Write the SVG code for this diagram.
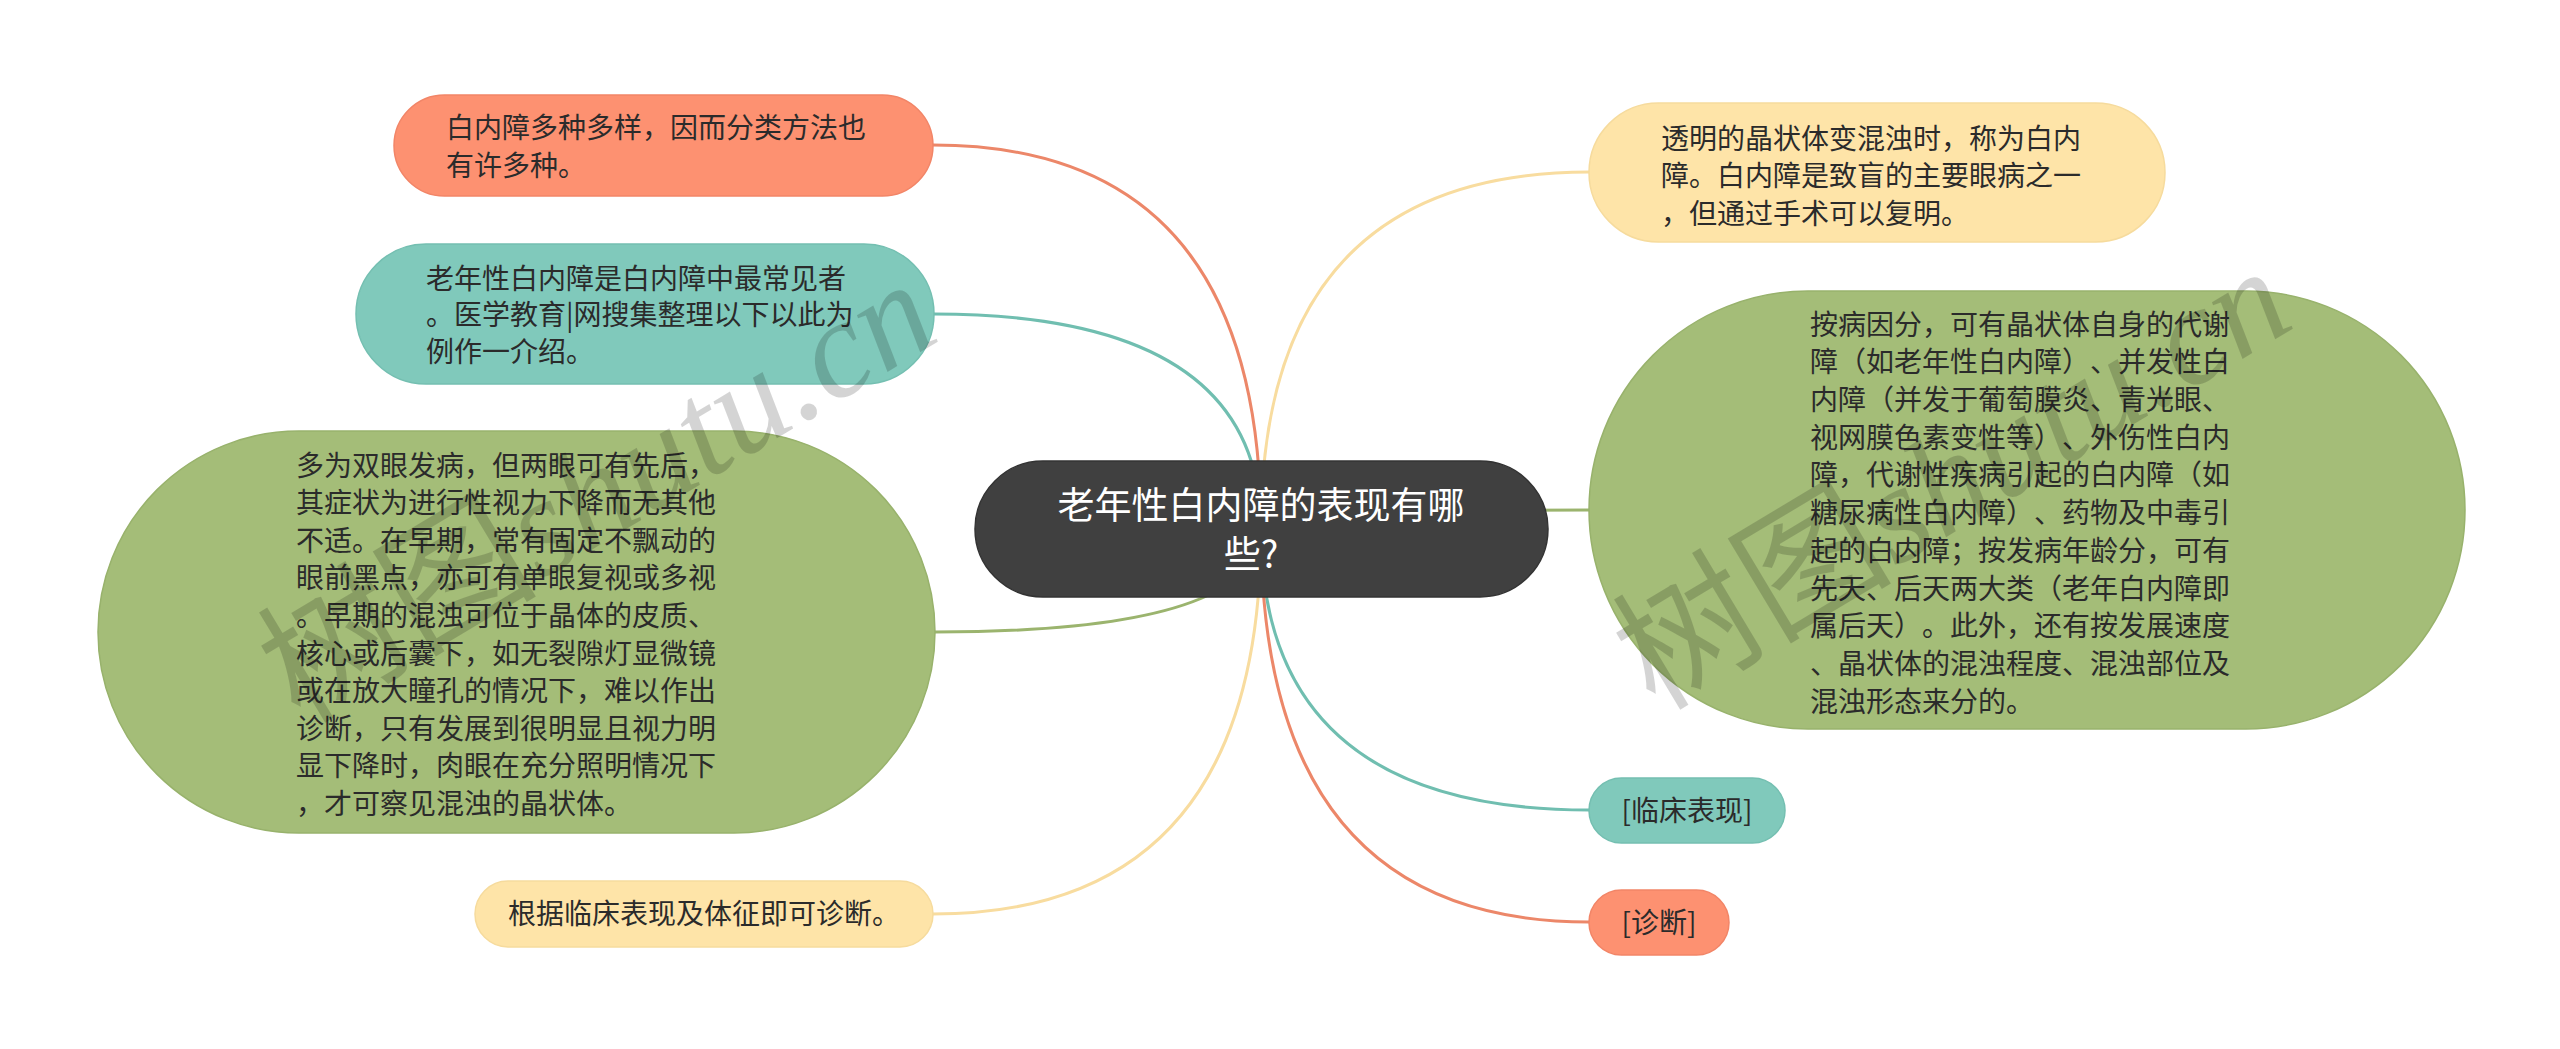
<svg xmlns="http://www.w3.org/2000/svg" width="2560" height="1049" viewBox="0 0 2560 1049">
<style>
.t{font-family:"Noto Sans CJK SC","Noto Sans",sans-serif;font-size:28px;fill:#2b2b2b;text-spacing-trim:space-all}
.root{font-family:"Noto Sans CJK SC","Noto Sans",sans-serif;font-size:37px;fill:#ffffff;text-spacing-trim:space-all}
.c{fill:none;stroke-width:3;stroke-linecap:round}
.salmon{fill:#fd9171;stroke:#f28567;stroke-width:1.5}
.teal{fill:#80c9bb;stroke:#74bfb1;stroke-width:1.5}
.yellow{fill:#fee4a8;stroke:#f6db9d;stroke-width:1.5}
.green{fill:#a4bd78;stroke:#98b26c;stroke-width:1.5}
.wm{font-size:140px;fill:#000;fill-opacity:0.17}
</style>
<rect width="2560" height="1049" fill="#ffffff"/>
<g id="connectors">
<path class="c" stroke="#ec8769" d="M1261 529 Q1261 145 933 145"/>
<path class="c" stroke="#70beb0" d="M1261 529 Q1261 314 934 314"/>
<path class="c" stroke="#9bb46e" d="M1261 529 Q1261 632 935 632"/>
<path class="c" stroke="#f8dc9f" d="M1261 529 Q1261 914 933 914"/>
<path class="c" stroke="#f8dc9f" d="M1261 529 Q1261 172 1589 172"/>
<path class="c" stroke="#9bb46e" d="M1261 529 Q1261 510 1589 510"/>
<path class="c" stroke="#70beb0" d="M1261 529 Q1261 810 1589 810"/>
<path class="c" stroke="#ec8769" d="M1261 529 Q1261 922 1589 922"/>
</g>
<g id="root">
<rect x="975" y="461" width="573" height="136" rx="68" fill="#404040" stroke="#333" stroke-width="1.5"/>
<text class="root" x="1261" y="519" text-anchor="middle">老年性白内障的表现有哪</text>
<text class="root" x="1251" y="568" text-anchor="middle">些?</text>
</g>
<g id="n-salmon-left">
<rect class="salmon" x="394" y="95" width="539" height="101" rx="50.5"/>
<text class="t" x="446" y="138">白内障多种多样，因而分类方法也</text>
<text class="t" x="446" y="175.5">有许多种。</text>
</g>
<g id="n-teal-left">
<rect class="teal" x="356" y="244" width="578" height="140" rx="70"/>
<text class="t" x="426" y="288.5">老年性白内障是白内障中最常见者</text>
<text class="t" x="426" y="325">。医学教育|网搜集整理以下以此为</text>
<text class="t" x="426" y="361.5">例作一介绍。</text>
</g>
<g id="n-green-left">
<rect class="green" x="98" y="431" width="837" height="402" rx="201"/>
<text class="t" x="296" y="475.6">多为双眼发病，但两眼可有先后，</text>
<text class="t" x="296" y="513.2">其症状为进行性视力下降而无其他</text>
<text class="t" x="296" y="550.8">不适。在早期，常有固定不飘动的</text>
<text class="t" x="296" y="588.4">眼前黑点，亦可有单眼复视或多视</text>
<text class="t" x="296" y="626">。早期的混浊可位于晶体的皮质、</text>
<text class="t" x="296" y="663.6">核心或后囊下，如无裂隙灯显微镜</text>
<text class="t" x="296" y="701.2">或在放大瞳孔的情况下，难以作出</text>
<text class="t" x="296" y="738.8">诊断，只有发展到很明显且视力明</text>
<text class="t" x="296" y="776.4">显下降时，肉眼在充分照明情况下</text>
<text class="t" x="296" y="814">，才可察见混浊的晶状体。</text>
</g>
<g id="n-yellow-left">
<rect class="yellow" x="475" y="881" width="458" height="66" rx="33"/>
<text class="t" x="508" y="923.5">根据临床表现及体征即可诊断。</text>
</g>
<g id="n-yellow-right">
<rect class="yellow" x="1589" y="103" width="576" height="139" rx="69.5"/>
<text class="t" x="1661" y="148.5">透明的晶状体变混浊时，称为白内</text>
<text class="t" x="1661" y="186">障。白内障是致盲的主要眼病之一</text>
<text class="t" x="1661" y="223.5">，但通过手术可以复明。</text>
</g>
<g id="n-green-right">
<rect class="green" x="1589" y="291" width="876" height="438" rx="219"/>
<text class="t" x="1810" y="334.6">按病因分，可有晶状体自身的代谢</text>
<text class="t" x="1810" y="372.3">障（如老年性白内障）、并发性白</text>
<text class="t" x="1810" y="410">内障（并发于葡萄膜炎、青光眼、</text>
<text class="t" x="1810" y="447.7">视网膜色素变性等）、外伤性白内</text>
<text class="t" x="1810" y="485.4">障，代谢性疾病引起的白内障（如</text>
<text class="t" x="1810" y="523.1">糖尿病性白内障）、药物及中毒引</text>
<text class="t" x="1810" y="560.8">起的白内障；按发病年龄分，可有</text>
<text class="t" x="1810" y="598.5">先天、后天两大类（老年白内障即</text>
<text class="t" x="1810" y="636.2">属后天）。此外，还有按发展速度</text>
<text class="t" x="1810" y="673.9">、晶状体的混浊程度、混浊部位及</text>
<text class="t" x="1810" y="711.6">混浊形态来分的。</text>
</g>
<g id="n-teal-right">
<rect class="teal" x="1589" y="778" width="196" height="65" rx="32.5"/>
<text class="t" x="1687" y="820.5" text-anchor="middle">[临床表现]</text>
</g>
<g id="n-salmon-right">
<rect class="salmon" x="1589" y="890" width="140" height="65" rx="32.5"/>
<text class="t" x="1659" y="933" text-anchor="middle">[诊断]</text>
</g>
<g id="watermarks">
<text class="wm" transform="translate(300 725) rotate(-31)"><tspan font-family="Noto Sans CJK SC,sans-serif">树图</tspan><tspan font-family="Liberation Serif,serif" font-style="italic">shutu.cn</tspan></text>
<text class="wm" transform="translate(1655 712) rotate(-31)"><tspan font-family="Noto Sans CJK SC,sans-serif">树图</tspan><tspan font-family="Liberation Serif,serif" font-style="italic">shutu.cn</tspan></text>
</g>
</svg>
